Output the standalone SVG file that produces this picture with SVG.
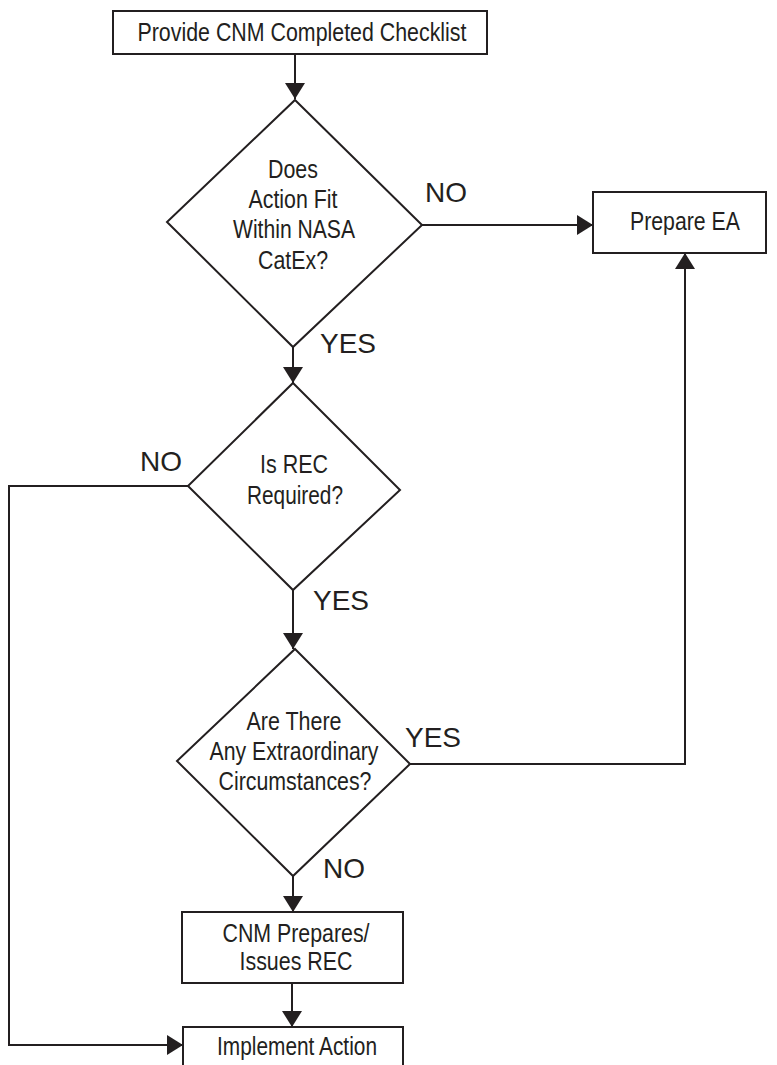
<svg xmlns="http://www.w3.org/2000/svg" width="777" height="1065" viewBox="0 0 777 1065">
<style>
.box{fill:#fff;stroke:#231f20;stroke-width:2}
.con{fill:none;stroke:#231f20;stroke-width:2}
.t{font-family:"Liberation Sans",Arial,sans-serif;font-size:25px;fill:#231f20;text-anchor:middle}
.lbl{font-family:"Liberation Sans",Arial,sans-serif;font-size:28px;fill:#231f20}
</style>
<defs>
<marker id="ah" viewBox="0 0 16 20" refX="16" refY="10" markerWidth="16" markerHeight="20" markerUnits="userSpaceOnUse" orient="auto">
<path d="M0,0 L16,10 L0,20 z" fill="#231f20"/>
</marker>
</defs>
<rect width="777" height="1065" fill="#fff"/>
<g id="connectors">
<path class="con" d="M295,54 V99" marker-end="url(#ah)"/>
<path class="con" d="M422,225 H593" marker-end="url(#ah)"/>
<path class="con" d="M293,347 V383" marker-end="url(#ah)"/>
<path class="con" d="M188,486 H9 V1045 H183" marker-end="url(#ah)"/>
<path class="con" d="M293,590 V649" marker-end="url(#ah)"/>
<path class="con" d="M410,764 H685 V253" marker-end="url(#ah)"/>
<path class="con" d="M293,876 V912" marker-end="url(#ah)"/>
<path class="con" d="M292,983 V1027" marker-end="url(#ah)"/>
<text class="lbl" x="425" y="202">NO</text>
<text class="lbl" x="320" y="353">YES</text>
<text class="lbl" x="140" y="471">NO</text>
<text class="lbl" x="313" y="610">YES</text>
<text class="lbl" x="405" y="747">YES</text>
<text class="lbl" x="323" y="878">NO</text>
</g>
<g id="n_start">
<rect class="box" x="113" y="11" width="374" height="43"/>
<text class="t" x="302" y="41" textLength="329" lengthAdjust="spacingAndGlyphs">Provide CNM Completed Checklist</text>
</g>
<g id="n_catex">
<polygon class="box" points="295,100 422,225 293,347 167,222"/>
<text class="t" x="293" y="178" textLength="50" lengthAdjust="spacingAndGlyphs">Does</text>
<text class="t" x="293" y="208" textLength="89" lengthAdjust="spacingAndGlyphs">Action Fit</text>
<text class="t" x="294" y="238" textLength="122" lengthAdjust="spacingAndGlyphs">Within NASA</text>
<text class="t" x="293" y="269" textLength="70" lengthAdjust="spacingAndGlyphs">CatEx?</text>
</g>
<g id="n_ea">
<rect class="box" x="593" y="192" width="173" height="61"/>
<text class="t" x="685" y="230" textLength="110" lengthAdjust="spacingAndGlyphs">Prepare EA</text>
</g>
<g id="n_rec">
<polygon class="box" points="293,383 400,490 293,590 188,486"/>
<text class="t" x="294" y="473" textLength="68" lengthAdjust="spacingAndGlyphs">Is REC</text>
<text class="t" x="295" y="504" textLength="96" lengthAdjust="spacingAndGlyphs">Required?</text>
</g>
<g id="n_extra">
<polygon class="box" points="295,649 410,764 293,876 177,761"/>
<text class="t" x="294" y="730" textLength="95" lengthAdjust="spacingAndGlyphs">Are There</text>
<text class="t" x="294" y="760" textLength="169" lengthAdjust="spacingAndGlyphs">Any Extraordinary</text>
<text class="t" x="295" y="790" textLength="153" lengthAdjust="spacingAndGlyphs">Circumstances?</text>
</g>
<g id="n_cnm">
<rect class="box" x="182" y="912" width="221" height="71"/>
<text class="t" x="296" y="942" textLength="147" lengthAdjust="spacingAndGlyphs">CNM Prepares/</text>
<text class="t" x="296" y="970" textLength="113" lengthAdjust="spacingAndGlyphs">Issues REC</text>
</g>
<g id="n_impl">
<rect class="box" x="183" y="1027" width="220" height="50"/>
<text class="t" x="297" y="1055" textLength="160" lengthAdjust="spacingAndGlyphs">Implement Action</text>
</g>
</svg>
